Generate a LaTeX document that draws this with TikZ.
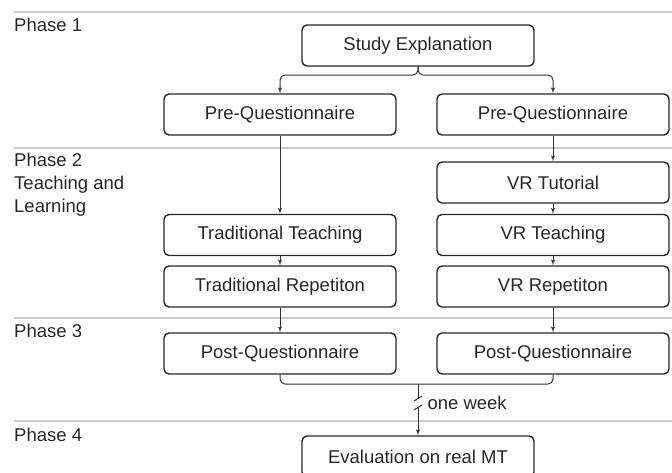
\documentclass[tikz,border=0pt]{standalone}
\usepackage{fontspec}
\setmainfont{Liberation Sans}
\usetikzlibrary{arrows,positioning}
\tikzset{font=\fontsize{18.5}{23}\selectfont}
\tikzset{every node/.append style={transform shape=false}}
\tikzset{stepbox/.style={draw=black!85, line width=1.4pt, rounded corners=5pt,
    minimum width=232pt, minimum height=41pt, inner sep=0pt, text=black!85}}
\tikzset{conn/.style={draw=black!80, line width=1pt, rounded corners=5pt}}
\tikzset{phaseline/.style={draw=black!20, line width=1.5pt}}

\begin{document}
\begin{tikzpicture}[x=1pt,y=-1pt]
\useasboundingbox (0,0) rectangle (672,472);
% phase separators
\foreach \yy in {12,148,318,421}
  \draw[phaseline] (14,\yy) -- (672,\yy);
\node[anchor=west,inner sep=0pt,text=black!85] (ph1) at (14,25) {Phase 1};
\node[anchor=north west,align=left,inner sep=0pt,text=black!85] (ph2) at (14,153)
  {Phase 2\\Teaching and\\Learning};
\node[anchor=west,inner sep=0pt,text=black!85] (ph3) at (14,331) {Phase 3};
\node[anchor=west,inner sep=0pt,text=black!85] (ph4) at (14,435) {Phase 4};
% boxes
\node[stepbox] (study) at (418,45.5) {Study Explanation};
\node[stepbox] (preL) at (280,114.5) {Pre-Questionnaire};
\node[stepbox] (preR) at (553,114.5) {Pre-Questionnaire};
\node[stepbox] (vrtut) at (553,182.5) {VR Tutorial};
\node[stepbox] (tradteach) at (280,235) {Traditional Teaching};
\node[stepbox] (vrteach) at (553,235) {VR Teaching};
\node[stepbox] (tradrep) at (280,286.5) {Traditional Repetiton};
\node[stepbox] (vrrep) at (553,286.5) {VR Repetiton};
\node[stepbox] (postL) at (280,353.5) {Post-Questionnaire};
\node[stepbox] (postR) at (553,353.5) {Post-Questionnaire};
\node[stepbox] (evalmt) at (418,456.5) {Evaluation on real MT};
% split and merge points
\coordinate (split) at (418,75);
\coordinate (merge) at (418,384);
\draw[conn,-latex'] (study.south) -- (split) -| (preL.north);
\draw[conn,-latex'] (study.south) -- (split) -| (preR.north);
\draw[conn,-latex'] (preL) -- (tradteach);
\draw[conn,-latex'] (tradteach) -- (tradrep);
\draw[conn,-latex'] (tradrep) -- (postL);
\draw[conn,-latex'] (preR) -- (vrtut);
\draw[conn,-latex'] (vrtut) -- (vrteach);
\draw[conn,-latex'] (vrteach) -- (vrrep);
\draw[conn,-latex'] (vrrep) -- (postR);
\draw[conn] (postL.south) |- (merge);
\draw[conn] (postR.south) |- (merge);
\draw[conn,-latex'] (merge) -- (evalmt.north);
% break mark
\fill[white] (413,399) rectangle (423,407);
\draw[black!80,line width=1pt] (414,401) -- (422,396) (414,410) -- (422,405);
\node[anchor=west,text=black!85] (week) at (424,403) {one week};
\end{tikzpicture}
\end{document}
